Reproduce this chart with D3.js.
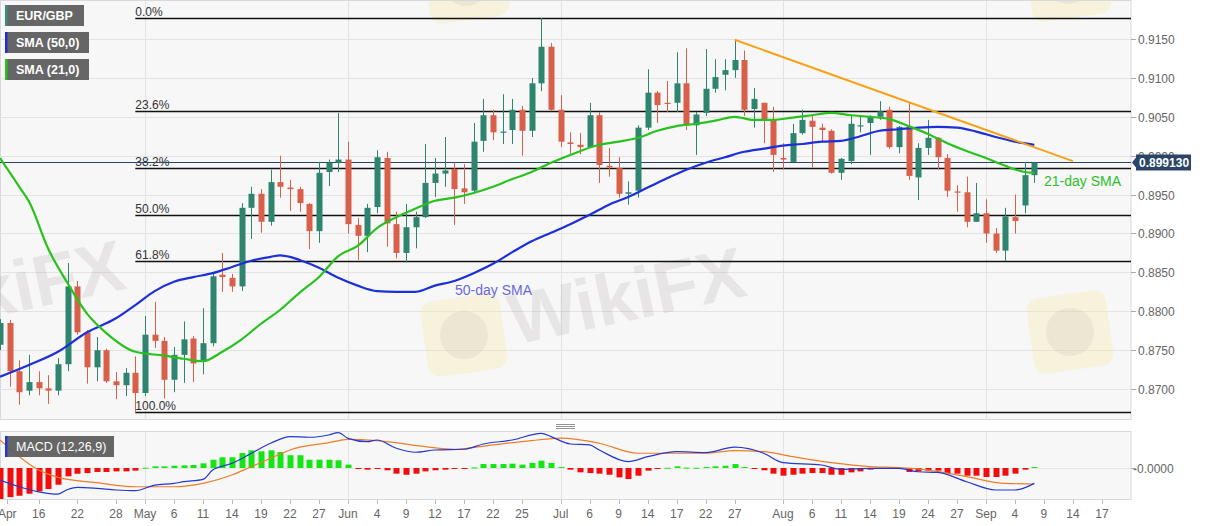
<!DOCTYPE html>
<html><head><meta charset="utf-8">
<script src="https://cdn.jsdelivr.net/npm/d3@7"></script>
<style>
html,body{margin:0;padding:0;background:#fff;}
svg{display:block;font-family:"Liberation Sans",Arial,sans-serif;}
</style></head><body>
<svg id="c" width="1207" height="526"></svg>
<script>
// ---------------- DATA ----------------
const open = [0.8757,0.8785,0.8723,0.8698,0.8709,0.8701,0.8698,0.8732,0.8832,0.8773,
0.8728,0.8750,0.8710,0.8705,0.8721,0.8695,0.8770,0.8762,0.8712,0.8744,
0.8765,0.8735,0.8759,0.8847,0.8843,0.8832,0.8933,0.8951,0.8915,0.8966,
0.8959,0.8957,0.8938,0.8903,0.8979,0.8991,0.8995,0.8911,0.8897,0.8934,
0.8997,0.8912,0.8875,0.8908,0.8921,0.8965,0.8977,0.8983,0.8958,0.8955,
0.9019,0.9052,0.9030,0.9033,0.9059,0.9032,0.9093,0.9140,0.9059,0.9017,
0.9014,0.9011,0.9052,0.8987,0.8984,0.8951,0.8955,0.9036,0.9081,0.9068,
0.9068,0.9093,0.9039,0.9055,0.9086,0.9104,0.9110,0.9123,0.9060,0.9068,
0.9047,0.8997,0.8992,0.9029,0.9045,0.9036,0.9032,0.8978,0.8993,0.9038,
0.9042,0.9050,0.9059,0.9011,0.9037,0.8972,0.9010,0.9023,0.8997,0.8954,
0.8953,0.8915,0.8926,0.8900,0.8878,0.8921,0.8936,0.8975];
const high = [0.8790,0.8789,0.8737,0.8744,0.8723,0.8718,0.8740,0.8862,0.8839,0.8776,
0.8767,0.8752,0.8722,0.8727,0.8742,0.8794,0.8812,0.8767,0.8754,0.8787,
0.8768,0.8804,0.8849,0.8875,0.8848,0.8939,0.8960,0.8957,0.8982,0.9000,
0.8969,0.8960,0.8939,0.8992,0.8995,0.9055,0.9018,0.8920,0.8938,0.9007,
0.9005,0.8928,0.8938,0.8928,0.9015,0.8997,0.9024,0.8991,0.8989,0.9042,
0.9073,0.9059,0.9079,0.9073,0.9064,0.9100,0.9177,0.9145,0.9078,0.9030,
0.9029,0.9068,0.9056,0.9010,0.8998,0.8967,0.9039,0.9111,0.9083,0.9096,
0.9133,0.9138,0.9056,0.9137,0.9124,0.9124,0.9150,0.9135,0.9087,0.9068,
0.9063,0.9016,0.9041,0.9059,0.9052,0.9041,0.9034,0.8997,0.9052,0.9051,
0.9052,0.9070,0.9063,0.9038,0.9069,0.9016,0.9046,0.9024,0.9002,0.8962,
0.8973,0.8965,0.8944,0.8907,0.8933,0.8950,0.8992,0.8992];
const low = [0.8750,0.8703,0.8680,0.8692,0.8692,0.8681,0.8692,0.8723,0.8770,0.8707,
0.8710,0.8708,0.8687,0.8691,0.8671,0.8691,0.8753,0.8688,0.8696,0.8708,
0.8709,0.8719,0.8755,0.8825,0.8825,0.8826,0.8893,0.8901,0.8910,0.8946,
0.8929,0.8928,0.8880,0.8888,0.8961,0.8979,0.8900,0.8866,0.8876,0.8926,
0.8883,0.8868,0.8863,0.8881,0.8920,0.8947,0.8960,0.8911,0.8938,0.8952,
0.9005,0.9020,0.9015,0.9015,0.9000,0.9024,0.9083,0.9057,0.9011,0.9002,
0.9002,0.9010,0.8965,0.8973,0.8946,0.8937,0.8946,0.9033,0.9042,0.9056,
0.9056,0.9033,0.9001,0.9051,0.9081,0.9084,0.9100,0.9051,0.9036,0.9016,
0.8979,0.8982,0.8992,0.9027,0.8985,0.9018,0.8977,0.8969,0.8989,0.9030,
0.9001,0.9046,0.9009,0.9003,0.8969,0.8943,0.9001,0.8982,0.8947,0.8928,
0.8908,0.8915,0.8888,0.8875,0.8865,0.8900,0.8926,0.8965];
const close = [0.8785,0.8723,0.8696,0.8709,0.8701,0.8698,0.8732,0.8832,0.8773,0.8728,
0.8750,0.8710,0.8705,0.8721,0.8695,0.8770,0.8762,0.8712,0.8744,0.8764,
0.8733,0.8759,0.8845,0.8844,0.8832,0.8933,0.8951,0.8915,0.8966,0.8960,
0.8957,0.8939,0.8903,0.8978,0.8991,0.8995,0.8912,0.8897,0.8933,0.8998,
0.8913,0.8875,0.8908,0.8921,0.8965,0.8977,0.8981,0.8957,0.8953,0.9018,
0.9052,0.9030,0.9031,0.9059,0.9032,0.9093,0.9140,0.9059,0.9018,0.9015,
0.9011,0.9052,0.8988,0.8985,0.8951,0.8953,0.9036,0.9081,0.9065,0.9067,
0.9093,0.9039,0.9053,0.9086,0.9101,0.9110,0.9123,0.9059,0.9073,0.9047,
0.9001,0.8995,0.9029,0.9046,0.9037,0.9033,0.8978,0.8996,0.9041,0.9039,
0.9050,0.9057,0.9011,0.9037,0.8974,0.9010,0.9023,0.8998,0.8955,0.8953,
0.8915,0.8926,0.8900,0.8878,0.8922,0.8916,0.8975,0.8991];

const sma21Idx = [0,2,3,5,7,9,11,14,17,19,21,23,25,27,29,31,33,35,37,39,41,43,45,47,49,51,53,55,57,59,62,64,66,68,70,72,74,76,78,80,82,84,86,88,90,92,94,96,98,100,102,104,106,107];
const sma21 = [0.8997,0.8960,0.8941,0.8880,0.8836,0.8797,0.8772,0.8748,0.8743,0.8739,0.8736,0.8748,0.8764,0.8784,0.8802,0.8824,0.8844,0.8871,0.8884,0.8907,0.8921,0.8932,0.8942,0.8946,0.8952,0.8960,0.8970,0.8979,0.8991,0.9001,0.9014,0.9018,0.9023,0.9032,0.9038,0.9041,0.9045,0.9050,0.9046,0.9046,0.9049,0.9052,0.9055,0.9052,0.9050,0.9047,0.9038,0.9028,0.9016,0.9006,0.8997,0.8987,0.8979,0.8978];
const sma50Idx = [0,3,6,9,12,14,16,18,20,22,24,26,28,29,30,31,33,35,37,39,41,43,45,47,49,51,53,55,57,59,61,63,65,67,69,71,73,75,77,79,81,83,85,87,89,91,93,95,97,99,101,103,105,107];
const sma50 = [0.8716,0.8731,0.8748,0.8773,0.8791,0.8808,0.8826,0.8838,0.8844,0.8849,0.8857,0.8865,0.8870,0.8872,0.8870,0.8866,0.8856,0.8843,0.8833,0.8826,0.8825,0.8825,0.8833,0.8839,0.8849,0.8861,0.8876,0.8890,0.8901,0.8912,0.8924,0.8937,0.8947,0.8959,0.8971,0.8982,0.8991,0.8998,0.9005,0.9009,0.9013,0.9015,0.9018,0.9019,0.9025,0.9032,0.9034,0.9036,0.9037,0.9036,0.9031,0.9024,0.9018,0.9014];

const trendIdx = [76, 111];
const trendVal = [0.9149, 0.8993];

const fibHigh = 0.9177, fibLow = 0.8671, fibStartIdx = 14;
const fibRatios = [0, 0.236, 0.382, 0.5, 0.618, 1.0];
const fibLabels = ["0.0%","23.6%","38.2%","50.0%","61.8%","100.0%"];

const lastPrice = 0.899130;

const histogram = [-0.00258,-0.00242,-0.00231,-0.00214,-0.00194,-0.00175,-0.00139,-0.00069,-0.00048,-0.00042,
-0.00033,-0.00033,-0.00028,-0.00028,-0.00022,0.00002,
0.00014,0.00014,0.00019,0.00022,0.00025,0.00039,0.00069,0.00089,0.00089,0.00125,0.00147,0.00139,0.00147,0.00133,0.00106,0.00106,0.00069,0.00069,0.00069,0.00064,0.00028,
-0.00008,-0.00014,-0.00002,-0.00019,-0.00047,-0.00056,-0.00047,-0.00028,-0.00019,-0.00014,-0.00008,-0.00008,
0.00005,0.00033,0.00033,0.00033,0.00036,0.00028,0.00042,0.00061,0.00042,0.00008,
-0.00014,-0.00036,-0.00042,-0.00047,-0.00056,-0.00078,-0.00092,-0.00064,-0.00022,-0.00008,
0.00002,
0.00014,0.00003,0.00002,0.00008,0.00014,0.00019,0.00033,0.00008,
-0.00003,-0.00019,-0.00047,-0.00064,-0.00056,-0.00047,-0.00042,-0.00042,-0.00056,-0.00056,-0.00036,-0.00028,-0.00014,-0.00006,-0.00008,-0.00006,-0.00033,-0.00028,-0.00022,-0.00022,-0.00042,-0.00047,-0.00064,-0.00064,-0.00075,-0.00075,-0.00064,-0.00047,-0.00014,
0.00008];
const macdIdx = [0,2,4,6,7,8,10,12,14,16,18,19,21,22,24,26,28,30,32,34,35,36,38,39,41,43,45,48,50,53,56,57,59,61,62,65,67,70,73,76,79,81,85,87,90,93,95,97,100,103,105,107];
const macd = [-0.00100,-0.00156,-0.00198,-0.00217,-0.00179,-0.00161,-0.00169,-0.00183,-0.00189,-0.00142,-0.00128,-0.00114,-0.00094,-0.00017,0.00039,0.00122,0.00206,0.00261,0.00256,0.00275,0.00294,0.00247,0.00219,0.00233,0.00164,0.00131,0.00150,0.00156,0.00200,0.00233,0.00289,0.00261,0.00200,0.00192,0.00150,0.00053,0.00094,0.00136,0.00128,0.00173,0.00123,0.00044,0.00025,-0.00011,-0.00003,-0.00003,-0.00031,-0.00036,-0.00114,-0.00183,-0.00183,-0.00128];
const signalIdx = [0,4,6,10,14,18,21,24,26,28,30,34,36,39,44,47,51,55,58,62,66,70,73,76,79,82,86,90,93,96,100,104,107];
const signal = [0.00233,-0.00017,-0.00078,-0.00122,-0.00156,-0.00156,-0.00128,-0.00058,0.00011,0.00081,0.00150,0.00211,0.00239,0.00228,0.00178,0.00156,0.00192,0.00228,0.00248,0.00206,0.00123,0.00123,0.00123,0.00144,0.00136,0.00094,0.00044,0.00011,0.00003,-0.00017,-0.00072,-0.00128,-0.00133];

const priceTicks = [0.8700,0.8750,0.8800,0.8850,0.8900,0.8950,0.9000,0.9050,0.9100,0.9150];
const monthIdx = [15,36,58,81,102];
const tickIdx = [0.75,4,8,12,15,18,21,24,27,30,33,36,39,42,45,48,51,54,58,61,64,67,70,73,76,81,84,87,90,93,96,99,102,105,108,111,114];
const tickLabels = ["Apr","16","22","28","May","6","11","14","19","22","27","Jun","4","9","12","17","22","25","Jul","6","9","14","17","22","27","Aug","6","11","14","19","24","27","Sep","4","9","14","17"];

// ---------------- LAYOUT ----------------
const plotR = 1131, mainT = 1, mainB = 420, macdT = 431, macdB = 499;
const svg = d3.select('#c');
const x = d3.scaleLinear().domain([0,107]).range([0,1034.3]);
const y = d3.scaleLinear().domain([0.86603,0.91988]).range([mainB,mainT]);
const ym = d3.scaleLinear().domain([-0.00258,0.00308]).range([macdB,macdT]);
const UP = "#2f8470", DN = "#d8604b";

const defs = svg.append('defs');
defs.append('clipPath').attr('id','cm').append('rect').attr('x',0).attr('y',mainT).attr('width',plotR).attr('height',mainB-mainT);
defs.append('clipPath').attr('id','cd').append('rect').attr('x',0).attr('y',macdT).attr('width',plotR).attr('height',macdB-macdT);

// backgrounds
svg.append('rect').attr('x',0).attr('y',0).attr('width',1207).attr('height',526).attr('fill','#fff');
svg.append('rect').attr('x',0.5).attr('y',mainT-0.5).attr('width',plotR-0.5).attr('height',mainB-mainT).attr('fill','#f7f7f7').attr('stroke','#d6d9de');
svg.append('rect').attr('x',0.5).attr('y',macdT+0.5).attr('width',plotR-0.5).attr('height',macdB-macdT).attr('fill','#f7f7f7').attr('stroke','#d6d9de');

const gMain = svg.append('g').attr('clip-path','url(#cm)');
const gMacd = svg.append('g').attr('clip-path','url(#cd)');

// gridlines
gMain.selectAll('line.hg').data(priceTicks).join('line')
  .attr('x1',0).attr('x2',plotR).attr('y1',d=>Math.round(y(d))+0.5).attr('y2',d=>Math.round(y(d))+0.5)
  .attr('stroke','#e3e3e3');
gMain.selectAll('line.vg').data(monthIdx).join('line')
  .attr('x1',d=>Math.round(x(d))+0.5).attr('x2',d=>Math.round(x(d))+0.5).attr('y1',mainT).attr('y2',mainB)
  .attr('stroke','#e3e3e3');
gMacd.selectAll('line.vg').data(monthIdx).join('line')
  .attr('x1',d=>Math.round(x(d))+0.5).attr('x2',d=>Math.round(x(d))+0.5).attr('y1',macdT).attr('y2',macdB)
  .attr('stroke','#e3e3e3');
gMacd.append('line').attr('x1',0).attr('x2',plotR).attr('y1',Math.round(ym(0))+0.5).attr('y2',Math.round(ym(0))+0.5).attr('stroke','#e6e6e6');

// watermarks
const wm = gMain.append('g');
function logo(g, cx, cy){
  g.append('rect').attr('x',cx-40).attr('y',cy-38).attr('width',80).attr('height',76).attr('rx',12)
   .attr('fill','#f6e7a6').attr('opacity',0.35).attr('transform',`rotate(-8,${cx},${cy})`);
  g.append('circle').attr('cx',cx).attr('cy',cy).attr('r',24).attr('fill','#8a8a8a').attr('opacity',0.10);
}
logo(wm, 464, 335); logo(wm, 1070, 332); logo(wm, 466, -18); logo(wm, 1068, -20);
[[ -106, 338],[515, 345],[1143, 348]].forEach(p=>{
  wm.append('text').attr('transform',`translate(${p[0]},${p[1]}) rotate(-12)`)
    .attr('font-size',72).attr('font-weight','bold').attr('fill','#8c8080').attr('opacity',0.14)
    .text('WikiFX');
});

// fibonacci
const fibG = gMain.append('g');
fibRatios.forEach((r,k)=>{
  const v = fibHigh - r*(fibHigh-fibLow);
  const yy = Math.round(y(v))+0.5;
  fibG.append('line').attr('x1',x(fibStartIdx)).attr('x2',plotR).attr('y1',yy).attr('y2',yy)
    .attr('stroke','#111').attr('stroke-width',1.3);
  fibG.append('text').attr('x',x(fibStartIdx)).attr('y',yy-3).attr('font-size',12).attr('fill','#333')
    .text(fibLabels[k]);
});

// price line
const py = Math.round(y(lastPrice))+0.5;
gMain.append('line').attr('x1',0).attr('x2',plotR).attr('y1',py).attr('y2',py).attr('stroke','#27466a').attr('stroke-width',1);

// candles
const idx = d3.range(open.length);
const cg = gMain.append('g');
cg.selectAll('line.w').data(idx).join('line')
  .attr('x1',i=>Math.round(x(i))+0.5).attr('x2',i=>Math.round(x(i))+0.5)
  .attr('y1',i=>y(high[i])).attr('y2',i=>y(low[i]))
  .attr('stroke',i=>close[i]>=open[i]?UP:DN).attr('stroke-width',1);
cg.selectAll('rect.b').data(idx).join('rect')
  .attr('x',i=>Math.round(x(i))-2.5).attr('width',6)
  .attr('y',i=>y(Math.max(open[i],close[i])))
  .attr('height',i=>Math.max(1.2, y(Math.min(open[i],close[i]))-y(Math.max(open[i],close[i]))))
  .attr('fill',i=>close[i]>=open[i]?UP:DN);

// SMAs
const line = d3.line().x(d=>x(d[0])).y(d=>y(d[1])).curve(d3.curveMonotoneX);
gMain.append('path').attr('d',line(sma50Idx.map((d,k)=>[d,sma50[k]]))).attr('fill','none').attr('stroke','#1c2fd8').attr('stroke-width',2.2);
gMain.append('path').attr('d',line(sma21Idx.map((d,k)=>[d,sma21[k]]))).attr('fill','none').attr('stroke','#27c21d').attr('stroke-width',2.2);

// trend line
gMain.append('line').attr('x1',x(trendIdx[0])).attr('y1',y(trendVal[0])).attr('x2',x(trendIdx[1])).attr('y2',y(trendVal[1]))
  .attr('stroke','#f7a21b').attr('stroke-width',2);

// annotations
gMain.append('text').attr('x',455).attr('y',295).attr('font-size',14).attr('fill','#6868de').text('50-day SMA');
gMain.append('text').attr('x',1044).attr('y',186).attr('font-size',14).attr('fill','#2ec02a').text('21-day SMA');

// MACD histogram
gMacd.selectAll('rect.h').data(idx).join('rect')
  .attr('x',i=>Math.round(x(i))-2.5).attr('width',6)
  .attr('y',i=>histogram[i]>=0?ym(histogram[i]):ym(0))
  .attr('height',i=>Math.max(1,Math.abs(ym(histogram[i])-ym(0))))
  .attr('fill',i=>histogram[i]>=0?'#14e614':'#f20c0c');
const mline = d3.line().x(d=>x(d[0])).y(d=>ym(d[1])).curve(d3.curveMonotoneX);
gMacd.append('path').attr('d',mline(signalIdx.map((d,k)=>[d,signal[k]]))).attr('fill','none').attr('stroke','#ee7d2a').attr('stroke-width',1.2);
gMacd.append('path').attr('d',mline(macdIdx.map((d,k)=>[d,macd[k]]))).attr('fill','none').attr('stroke','#2438d0').attr('stroke-width',1.2);

// right axis
const ax = svg.append('g');
priceTicks.forEach(v=>{
  const yy = Math.round(y(v))+0.5;
  ax.append('line').attr('x1',plotR).attr('x2',plotR+5).attr('y1',yy).attr('y2',yy).attr('stroke','#aaa');
  ax.append('text').attr('x',plotR+7).attr('y',yy+4).attr('font-size',12).attr('fill','#666').text(v.toFixed(4));
});
const zy = Math.round(ym(0))+0.5;
ax.append('line').attr('x1',plotR).attr('x2',plotR+5).attr('y1',zy).attr('y2',zy).attr('stroke','#aaa');
ax.append('text').attr('x',plotR+2).attr('y',zy+4).attr('font-size',12).attr('fill','#666').text('-0.0000');

// price label
const pl = ax.append('g');
pl.append('path').attr('d',`M${plotR+1},${py} L${plotR+5},${py-5} L${plotR+5},${py-8} L1191,${py-8} L1191,${py+8} L${plotR+5},${py+8} L${plotR+5},${py+5} Z`)
  .attr('fill','#2a4566');
pl.append('text').attr('x',plotR+8).attr('y',py+4.5).attr('font-size',12).attr('font-weight','bold').attr('fill','#fff').text(lastPrice.toFixed(6));

// bottom axis
const bx = svg.append('g');
bx.selectAll('line').data(tickIdx).join('line')
  .attr('x1',d=>Math.round(x(d))+0.5).attr('x2',d=>Math.round(x(d))+0.5).attr('y1',macdB+1).attr('y2',macdB+5).attr('stroke','#bbb');
bx.selectAll('text').data(tickIdx).join('text')
  .attr('x',d=>x(d)).attr('y',518).attr('text-anchor','middle').attr('font-size',12).attr('fill','#666')
  .text((d,k)=>tickLabels[k]);

// legend boxes
function badge(yy, w, label, col){
  svg.append('rect').attr('x',5).attr('y',yy).attr('width',w).attr('height',21).attr('fill','#5e5e5e').attr('opacity',0.95);
  svg.append('rect').attr('x',5).attr('y',yy).attr('width',2.5).attr('height',21).attr('fill',col);
  svg.append('text').attr('x',16).attr('y',yy+15).attr('font-size',12.5).attr('font-weight','bold').attr('fill','#fff').text(label);
}
badge(5, 79, 'EUR/GBP', '#3a8b79');
badge(32, 84, 'SMA (50,0)', '#1c2fd8');
badge(59, 84, 'SMA (21,0)', '#27c21d');
svg.append('rect').attr('x',5).attr('y',436).attr('width',109).attr('height',21).attr('fill','#5e5e5e').attr('opacity',0.95);
svg.append('rect').attr('x',5).attr('y',436).attr('width',2.5).attr('height',21).attr('fill','#2438d0');
svg.append('text').attr('x',16).attr('y',451).attr('font-size',12.5).attr('fill','#fff').text('MACD (12,26,9)');

// panel grip
[424.5,426.5,428.5].forEach(g=>svg.append('line').attr('x1',556).attr('x2',575).attr('y1',g).attr('y2',g).attr('stroke','#777').attr('stroke-width',0.8));
</script>
</body></html>
